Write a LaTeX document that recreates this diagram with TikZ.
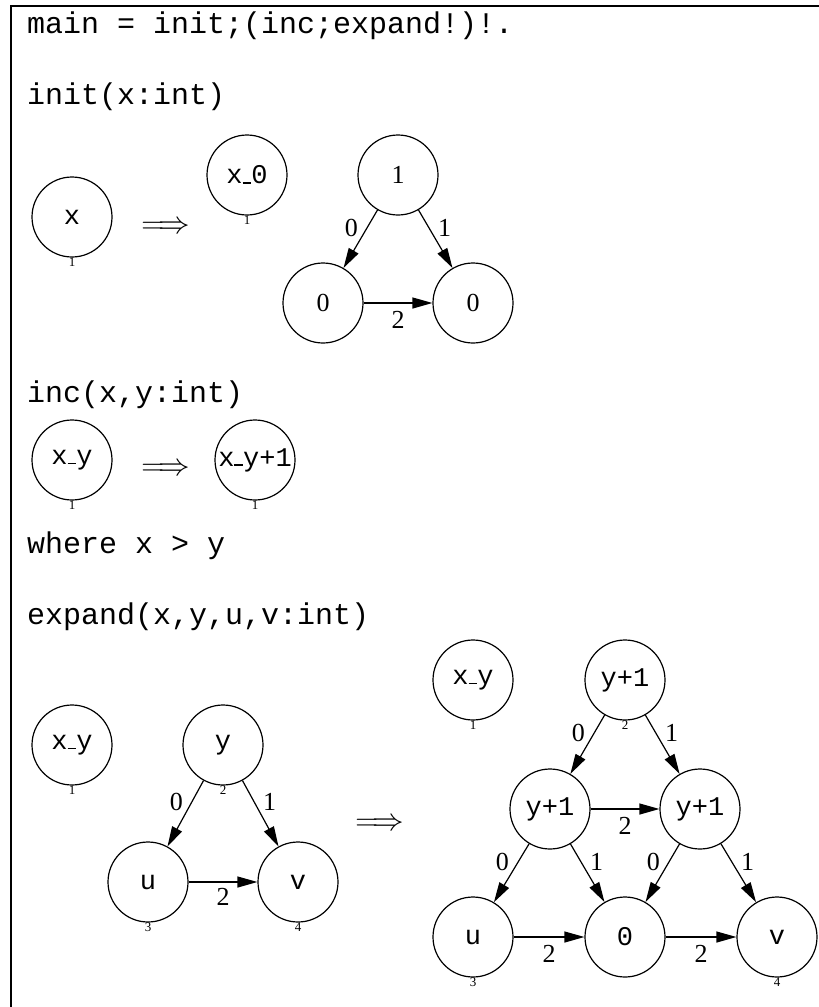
\RequirePackage{fix-cm}
\documentclass[tikz,border=0pt]{standalone}
\usepackage{fontspec}
\setmainfont{Liberation Serif}
\setmonofont{Liberation Mono}
\usetikzlibrary{arrows.meta}
\newcommand\usc{\rule{0.32em}{0.06em}}
\newcommand\impl{\scalebox{1.17}{$\Longrightarrow$}}

\begin{document}
\begin{tikzpicture}[x=1pt,y=-1pt,
  st/.style={circle,draw,line width=1.2pt,minimum size=80pt,inner sep=0pt,
    font=\fontsize{27}{30}\selectfont\ttfamily,label distance=6pt},
  stn/.style={st,font=\fontsize{26}{30}\selectfont\rmfamily},
  idx/.style={font=\fontsize{13}{15}\selectfont\rmfamily,inner sep=0pt},
  code/.style={anchor=base west,inner sep=0pt,font=\fontsize{30}{36}\selectfont\ttfamily},
  rarr/.style={font=\fontsize{27}{30}\selectfont},
  lab/.style={font=\fontsize{26}{30}\selectfont\rmfamily,inner sep=2pt},
  arr/.style={line width=1.2pt,-{Triangle[length=20pt,width=11pt]}}]
  \useasboundingbox (0,0) rectangle (819,1007);
  \draw[line width=2pt] (11,1007) -- (11,5.5) -- (819,5.5);

  \node[code] (hdr) at (27,33) {main = init;(inc;expand!)!.};
  \node[code] (tinit) at (27,104) {init(x:int)};
  \node[code] (tinc) at (27,402) {inc(x,y:int)};
  \node[code] (twhere) at (27,553) {where x > y};
  \node[code] (texp) at (27,624) {expand(x,y,u,v:int)};

  % init
  \node[st,label={[idx]below:1}] (ix) at (72,217) {x};
  \node[rarr] (ir) at (166,228) {\impl};
  \node[st,label={[idx]below:1}] (ix0) at (247,175) {x\usc0};
  \node[stn] (ione) at (398,175) {1};
  \node[stn] (izl) at (323,303) {0};
  \node[stn] (izr) at (473,303) {0};
  \path[arr]
    (ione) edge node[lab,above left] {0} (izl)
    (ione) edge node[lab,above right] {1} (izr)
    (izl) edge node[lab,below=6pt] {2} (izr);

  % inc
  \node[st,label={[idx]below:1}] (cx) at (72,460) {x\usc y};
  \node[rarr] (cr) at (166,470) {\impl};
  \node[st,label={[idx]below:1}] (cx1) at (255,460) {x\usc y+1};

  % expand, left side
  \node[st,label={[idx]below:1}] (ex) at (72,745) {x\usc y};
  \node[st,label={[idx]below:2}] (ey) at (223,745) {y};
  \node[st,label={[idx]below:3}] (eu) at (148,882) {u};
  \node[st,label={[idx]below:4}] (ev) at (298,882) {v};
  \path[arr]
    (ey) edge node[lab,above left] {0} (eu)
    (ey) edge node[lab,above right] {1} (ev)
    (eu) edge node[lab,below=4pt] {2} (ev);
  \node[rarr] (er) at (380,825) {\impl};

  % expand, right side
  \node[st,label={[idx]below:1}] (fx) at (473,680) {x\usc y};
  \node[st,label={[idx]below:2}] (fy) at (625,680) {y+1};
  \node[st] (fl) at (550,809) {y+1};
  \node[st] (fr) at (700,809) {y+1};
  \node[st,label={[idx]below:3}] (fu) at (473,937) {u};
  \node[st] (fz) at (625,937) {0};
  \node[st,label={[idx]below:4}] (fv) at (777,937) {v};
  \path[arr]
    (fy) edge node[lab,above left] {0} (fl)
    (fy) edge node[lab,above right] {1} (fr)
    (fl) edge node[lab,below=6pt] {2} (fr)
    (fl) edge node[lab,above left] {0} (fu)
    (fl) edge node[lab,above right] {1} (fz)
    (fr) edge node[lab,above left] {0} (fz)
    (fr) edge node[lab,above right] {1} (fv)
    (fu) edge node[lab,below=6pt] {2} (fz)
    (fz) edge node[lab,below=6pt] {2} (fv);
\end{tikzpicture}
\end{document}
